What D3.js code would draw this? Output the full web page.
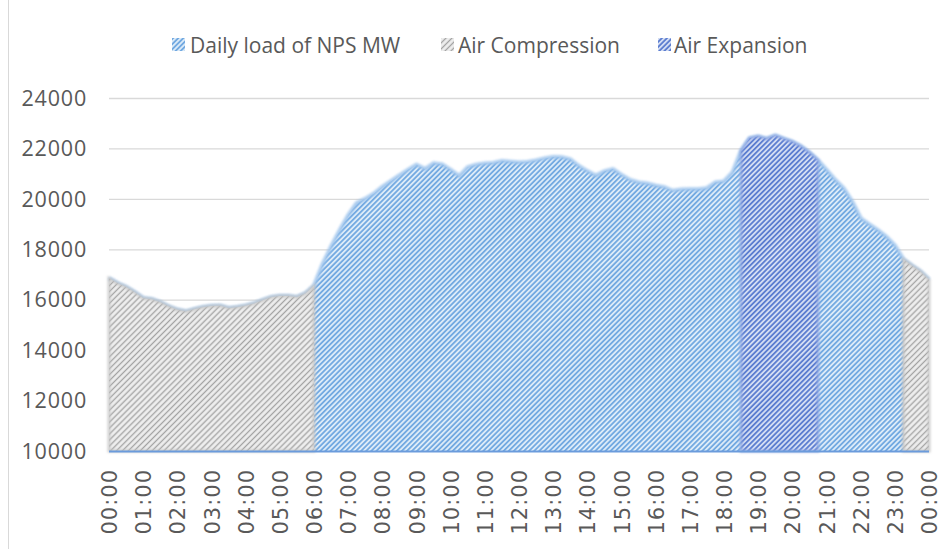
<!DOCTYPE html>
<html><head><meta charset="utf-8">
<script src="https://cdn.jsdelivr.net/npm/d3@7"></script>
<style>body{margin:0;background:#fff;} svg{display:block;}</style>
</head><body><svg id="c" width="945" height="549"></svg>
<script>
// ---- data ----
const times = ["00:00","00:15","00:30","00:45","01:00","01:15","01:30","01:45","02:00","02:15","02:30","02:45",
"03:00","03:15","03:30","03:45","04:00","04:15","04:30","04:45","05:00","05:15","05:30","05:45",
"06:00","06:15","06:30","06:45","07:00","07:15","07:30","07:45","08:00","08:15","08:30","08:45",
"09:00","09:15","09:30","09:45","10:00","10:15","10:30","10:45","11:00","11:15","11:30","11:45",
"12:00","12:15","12:30","12:45","13:00","13:15","13:30","13:45","14:00","14:15","14:30","14:45",
"15:00","15:15","15:30","15:45","16:00","16:15","16:30","16:45","17:00","17:15","17:30","17:45",
"18:00","18:15","18:30","18:45","19:00","19:15","19:30","19:45","20:00","20:15","20:30","20:45",
"21:00","21:15","21:30","21:45","22:00","22:15","22:30","22:45","23:00","23:15","23:30","23:45","24:00"];
const load = [16850,16650,16500,16300,16060,16020,15900,15730,15600,15530,15620,15700,
15750,15760,15660,15700,15760,15850,15980,16100,16150,16150,16100,16250,
16550,17400,18100,18750,19350,19830,20000,20200,20480,20700,20930,21150,
21350,21180,21410,21370,21150,20900,21250,21350,21400,21420,21500,21470,
21440,21460,21520,21600,21660,21650,21570,21300,21100,20920,21090,21180,
20950,20750,20650,20610,20520,20460,20320,20370,20380,20380,20420,20650,
20690,21050,21900,22400,22470,22380,22510,22380,22260,22080,21830,21520,
21150,20760,20420,19900,19230,18990,18760,18500,18150,17600,17350,17120,16790];
const compression = [16850,16650,16500,16300,16060,16020,15900,15730,15600,15530,15620,15700,
15750,15760,15660,15700,15760,15850,15980,16100,16150,16150,16100,16250,
16550,null,null,null,null,null,null,null,null,null,null,null,
null,null,null,null,null,null,null,null,null,null,null,null,
null,null,null,null,null,null,null,null,null,null,null,null,
null,null,null,null,null,null,null,null,null,null,null,null,
null,null,null,null,null,null,null,null,null,null,null,null,
null,null,null,null,null,null,null,null,null,17600,17350,17120,16790];
const expansion = [null,null,null,null,null,null,null,null,null,null,null,null,
null,null,null,null,null,null,null,null,null,null,null,null,
null,null,null,null,null,null,null,null,null,null,null,null,
null,null,null,null,null,null,null,null,null,null,null,null,
null,null,null,null,null,null,null,null,null,null,null,null,
null,null,null,null,null,null,null,null,null,null,null,null,
null,null,21900,22400,22470,22380,22510,22380,22260,22080,21830,21520,
null,null,null,null,null,null,null,null,null,null,null,null,null];
const yTicks = [10000,12000,14000,16000,18000,20000,22000,24000];
const hourTicks = ["00:00","01:00","02:00","03:00","04:00","05:00","06:00","07:00","08:00","09:00","10:00","11:00",
"12:00","13:00","14:00","15:00","16:00","17:00","18:00","19:00","20:00","21:00","22:00","23:00","24:00"];
const seriesNames = ["Daily load of NPS MW","Air Compression","Air Expansion"];

// ---- layout ----
const svg = d3.select("#c");
const L = 109, R = 929, T = 98, B = 451;
const x = d3.scalePoint().domain(times).range([L, R]);
const y = d3.scaleLinear().domain([10000, 24000]).range([B, T]);

// chart border
svg.append("line").attr("x1",8.5).attr("x2",8.5).attr("y1",0).attr("y2",549)
  .attr("stroke","#d9d9d9").attr("stroke-width",1);

const defs = svg.append("defs");
function pat(id, bg, fg, p, sw) {
  const pt = defs.append("pattern").attr("id", id).attr("patternUnits","userSpaceOnUse")
    .attr("width", p).attr("height", p).attr("patternTransform","rotate(45)");
  pt.append("rect").attr("width", p).attr("height", p).attr("fill", bg);
  pt.append("line").attr("x1", p/2).attr("x2", p/2).attr("y1", 0).attr("y2", p)
    .attr("stroke", fg).attr("stroke-width", sw);
}
pat("pBlue", "#dcebf8", "#4a90d9", 3.6, 1.3);
pat("pGrey", "#eeeeee", "#a3a3a3", 4.2, 1.3);
pat("pDark", "#d3ddf3", "#3a62c6", 3.6, 1.4);
const blur = defs.append("filter").attr("id","soft").attr("x","-5%").attr("y","-5%").attr("width","110%").attr("height","110%");
blur.append("feGaussianBlur").attr("stdDeviation", 1.2);

// gridlines
svg.append("g").selectAll("line").data(yTicks.filter(d => d > 10000)).join("line")
  .attr("x1", L).attr("x2", R).attr("y1", d => y(d) + 0.5).attr("y2", d => y(d) + 0.5)
  .attr("stroke", "#d9d9d9").attr("stroke-width", 1.3);

// y labels
svg.append("g").selectAll("text").data(yTicks).join("text")
  .attr("x", 87).attr("y", d => y(d)).attr("dy", "0.36em")
  .attr("text-anchor", "end").attr("fill", "#595959")
  .style("font-family", "'Open Sans', sans-serif").style("font-size", "21.5px").style("letter-spacing", "0.8px")
  .text(d => d);

const idx = times.map((t, i) => i);
function areaFor(vals) {
  return d3.area().defined(i => vals[i] != null)
    .x(i => x(times[i])).y0(B).y1(i => y(vals[i]))(idx);
}
function lineFor(vals) {
  return d3.line().defined(i => vals[i] != null)
    .x(i => x(times[i])).y(i => y(vals[i]))(idx);
}

// load area
svg.append("path").attr("d", areaFor(load)).attr("fill", "url(#pBlue)");
svg.append("path").attr("d", lineFor(load)).attr("fill", "none")
  .attr("stroke", "#9cc3ec").attr("stroke-width", 4).attr("opacity", 0.85).attr("filter", "url(#soft)");

// compression areas
svg.append("path").attr("d", areaFor(compression)).attr("fill", "url(#pGrey)");
svg.append("path").attr("d", areaFor(compression)).attr("fill", "none")
  .attr("stroke", "#c4c4c4").attr("stroke-width", 3).attr("opacity", 0.8).attr("filter", "url(#soft)");

// expansion area
svg.append("path").attr("d", areaFor(expansion)).attr("fill", "url(#pDark)");
svg.append("path").attr("d", areaFor(expansion)).attr("fill", "none")
  .attr("stroke", "#8ea6e2").attr("stroke-width", 3).attr("opacity", 0.8).attr("filter", "url(#soft)");

// axis base line
svg.append("line").attr("x1", L).attr("x2", R).attr("y1", B + 0.5).attr("y2", B + 0.5)
  .attr("stroke", "#6b9bdc").attr("stroke-width", 2);

// x axis labels
const xAxis = d3.axisBottom(x).tickValues(hourTicks).tickSize(0)
  .tickFormat(d => d === "24:00" ? "00:00" : d);
const gx = svg.append("g").attr("transform", `translate(0,${B})`).call(xAxis);
gx.select(".domain").remove();
gx.selectAll("text")
  .attr("transform", "rotate(-90)").attr("text-anchor", "end")
  .attr("x", -18).attr("y", 0).attr("dy", "0.36em")
  .attr("fill", "#595959")
  .style("font-family", "'DejaVu Sans', sans-serif").style("font-size", "21px").style("letter-spacing", "1px");

// legend
const legend = [
  {name: seriesNames[0], fill: "url(#pBlue)", mx: 172, tx: 190},
  {name: seriesNames[1], fill: "url(#pGrey)", mx: 441, tx: 458},
  {name: seriesNames[2], fill: "url(#pDark)", mx: 658, tx: 674}
];
const lg = svg.append("g").selectAll("g").data(legend).join("g");
lg.append("rect").attr("x", d => d.mx).attr("y", 38).attr("width", 13).attr("height", 13)
  .attr("fill", d => d.fill);
lg.append("text").attr("x", d => d.tx).attr("y", 45).attr("dy", "0.36em")
  .attr("fill", "#595959").style("font-family", "'Open Sans', sans-serif").style("font-size", "21px")
  .text(d => d.name);
</script></body></html>
